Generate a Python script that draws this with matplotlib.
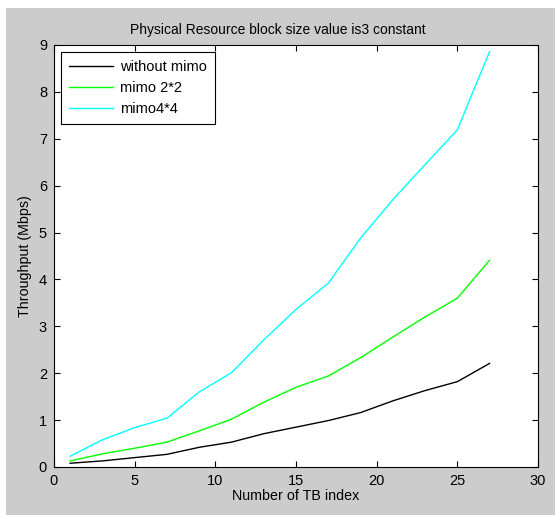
import numpy as np
import matplotlib.pyplot as plt
from matplotlib.patches import Rectangle

plt.rcParams['font.family'] = ['Liberation Sans', 'DejaVu Sans']

# Номер индекса TB
tb_index = [1, 3, 5, 7, 9, 11, 13, 15, 17, 19, 21, 23, 25, 27]

# Пропускная способность, Мбит/с
no_mimo = [0.08, 0.13, 0.20, 0.27, 0.42, 0.53, 0.71, 0.85, 0.99, 1.16, 1.41, 1.63, 1.82, 2.21]
mimo2 = [0.13, 0.28, 0.40, 0.53, 0.77, 1.02, 1.38, 1.70, 1.94, 2.33, 2.77, 3.20, 3.60, 4.41]
mimo4 = [0.23, 0.58, 0.84, 1.04, 1.60, 2.01, 2.71, 3.36, 3.92, 4.88, 5.70, 6.45, 7.19, 8.86]

fig = plt.figure(figsize=(5.55, 5.15), dpi=100, facecolor='#cccccc')
# белая полоска слева и сверху, как на скриншоте
fig.patches.append(Rectangle((0, 0), 6 / 555, 1, transform=fig.transFigure,
                             facecolor='white', edgecolor='none', zorder=-1))
fig.patches.append(Rectangle((0, 1 - 8 / 515), 1, 8 / 515, transform=fig.transFigure,
                             facecolor='white', edgecolor='none', zorder=-1))

ax = fig.add_axes([54 / 555, 48 / 515, 484 / 555, 422 / 515])
ax.plot(tb_index, no_mimo, color='black', lw=1, label='without mimo')
ax.plot(tb_index, mimo2, color='#00ff00', lw=1, label='mimo 2*2')
ax.plot(tb_index, mimo4, color='#00ffff', lw=1, label='mimo4*4')

ax.set_xlim(0, 30)
ax.set_ylim(0, 9)
ax.set_xticks(np.arange(0, 31, 5))
ax.set_yticks(np.arange(0, 10, 1))
ax.tick_params(direction='in', top=True, right=True, labelsize=10.5, length=4, pad=5)
ax.set_xlabel('Number of TB index', fontsize=10.3, labelpad=1)
ax.set_ylabel('Throughput (Mbps)', fontsize=10.3, labelpad=5)
ax.set_title('Physical Resource block size value is3 constant', fontsize=10, pad=8, x=0.462)

leg = ax.legend(loc='upper left', fontsize=10.5, fancybox=False, framealpha=1,
                edgecolor='black', borderaxespad=0.5, handlelength=3.0,
                borderpad=0.55, labelspacing=0.48, handletextpad=0.5)
leg.get_frame().set_linewidth(0.8)

plt.savefig('out.png', dpi=100, facecolor=fig.get_facecolor())
